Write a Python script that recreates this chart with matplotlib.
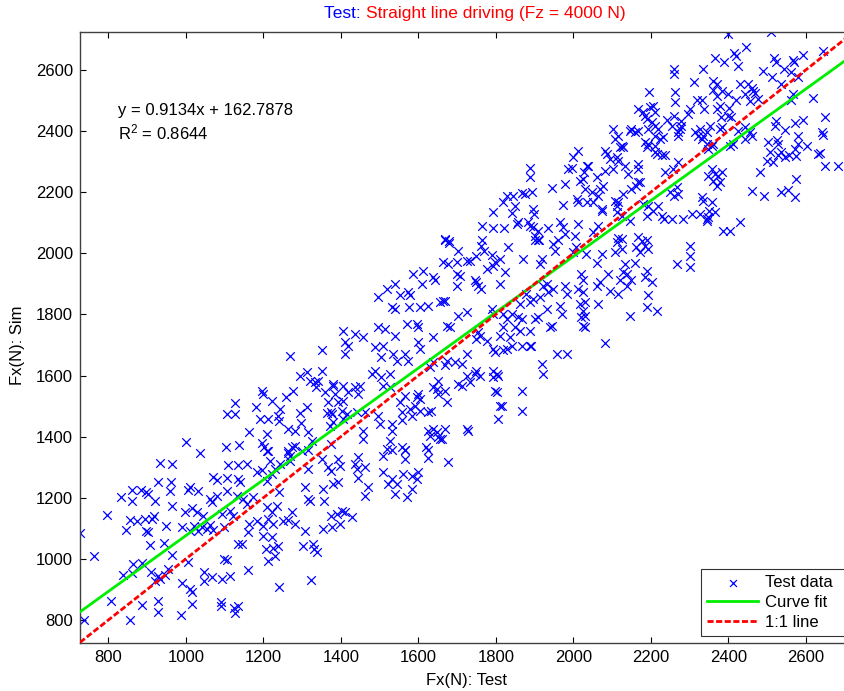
import matplotlib
matplotlib.use("Agg")
import matplotlib.pyplot as plt
import numpy as np

plt.rcParams['font.family'] = ['Liberation Sans', 'DejaVu Sans']
plt.rcParams['mathtext.fontset'] = 'custom'
plt.rcParams['mathtext.rm'] = 'Liberation Sans'
plt.rcParams['mathtext.it'] = 'Liberation Sans:italic'

# ---- data (Fx test vs Fx sim) ----
test_sim_points = [
    # lower-left region
    (727,1085),(763,1009),(797,1144),(737,800),(807,862),(833,1202),(861,1189),(861,1225),(884,1225),(897,1219),
    (903,1212),(933,1314),(964,1310),(928,1252),(962,1252),(959,1222),(921,1189),(964,1173),(856,1127),(874,1124),
    (895,1131),(913,1131),(918,1140),(846,1094),(897,1091),(903,1088),(949,1108),(908,1045),(944,1052),(964,1013),
    (864,984),(887,987),(838,947),(861,954),(910,957),(928,944),(946,947),(954,967),(921,928),(933,934),
    (887,849),(928,862),(928,826),(856,800),(987,816),(990,921),(1011,901),(1016,892),(1016,852),(1091,859),
    (1091,846),(1124,839),(1127,823),(1134,846),(1047,957),(1047,928),(1068,941),(1093,934),(1114,944),(1099,1000),
    (1106,996),(1160,964),(1240,908),(1323,931),(1006,990),(990,1104),(1011,1091),(1021,1108),(1032,1091),(1042,1104),
    (1055,1098),(1062,1111),(1070,1094),(998,1153),(1016,1166),(1029,1153),(1045,1140),(1011,1235),(1032,1222),(1006,1225),
    (1062,1196),(1068,1186),(1081,1206),(1070,1268),(1081,1258),(1109,1307),(1134,1307),(1158,1310),(1037,1346),(1106,1265),
    (1134,1261),(1140,1252),(1106,1222),(1132,1206),(1148,1196),(1158,1180),(1094,1147),(1114,1157),(1122,1140),(1099,1104),
    (1134,1049),(1145,1049),(1160,1088),(1163,1114),(1184,1124),(1199,1108),(1212,1131),(1225,1114),(1199,1075),(1207,1032),
    (1225,1036),(1238,1042),(1212,993),(1230,1009),(1222,1072),(1173,1202),(1209,1170),(1222,1153),(1235,1173),(1184,1284),
    (1196,1291),(1222,1278),(1230,1294),(1243,1310),(1217,1320),(1209,1353),(1263,1346),(1269,1337),(1251,1124),(1263,1127),
    (1282,1114),(1274,1153),(1307,1235),(1315,1196),(1320,1189),(1354,1229),(1356,1189),(1302,1042),(1328,1049),(1331,1032),
    (1339,1023),(1354,1098),(1377,1104),(1307,1091),(1269,1320),(1315,1294),(1351,1327),(1367,1301),(1209,1255),(1240,1219),
    # left-middle region
    (1001,1383),(1104,1366),(1137,1373),(1106,1474),(1127,1474),(1127,1510),(1163,1415),(1181,1497),(1191,1458),(1209,1409),
    (1196,1549),(1199,1540),(1222,1517),(1212,1458),(1238,1468),(1243,1491),(1240,1451),(1196,1379),(1202,1366),(1212,1353),
    (1259,1530),(1277,1549),(1269,1664),(1263,1425),(1282,1419),(1294,1478),(1297,1445),(1313,1497),(1315,1415),(1326,1386),
    (1313,1611),(1294,1598),(1320,1582),(1333,1579),(1341,1582),(1336,1562),(1351,1615),(1351,1684),(1359,1546),(1367,1513),
    (1380,1566),(1377,1474),(1372,1435),(1364,1478),(1263,1353),(1274,1366),(1282,1369),(1300,1353),(1315,1356),
    # middle-bottom region
    (1394,1327),(1445,1333),(1510,1338),(1531,1355),(1565,1355),(1565,1327),(1626,1355),(1626,1329),(1677,1316),(1376,1289),
    (1398,1305),(1437,1311),(1441,1295),(1462,1300),(1445,1264),(1394,1251),(1381,1245),(1510,1286),(1531,1262),(1522,1245),
    (1544,1245),(1561,1278),(1583,1273),(1600,1284),(1596,1262),(1583,1229),(1570,1202),(1540,1213),(1471,1235),(1462,1207),
    (1389,1147),(1402,1158),(1411,1153),(1428,1136),(1398,1115),(1376,1142),
    # centre region
    (1669,2042),(1680,2034),(1703,2009),(1733,1976),(1726,1976),(1750,1992),(1769,2006),(1763,2025),(1789,1995),(1776,1949),
    (1798,1973),(1811,1982),(1793,1960),(1832,2020),(1824,1940),(1811,1900),(1763,1883),(1699,1932),(1707,1927),(1699,1894),
    (1746,1911),(1750,1905),(1755,1894),(1664,1971),(1677,1965),(1699,1971),(1587,1932),(1613,1943),(1639,1922),(1643,1911),
    (1609,1900),(1540,1900),(1518,1883),(1497,1856),(1574,1872),(1578,1862),(1553,1862),(1531,1823),(1540,1818),(1577,1823),
    (1604,1823),(1626,1829),(1664,1845),(1669,1845),(1656,1840),(1703,1796),(1725,1807),(1497,1758),(1514,1753),(1540,1731),
    (1570,1769),(1596,1769),(1600,1758),(1673,1763),(1682,1758),(1639,1725),(1406,1747),(1411,1709),(1419,1698),(1437,1736),
    (1458,1725),(1411,1671),(1488,1692),(1510,1698),(1505,1660),(1535,1671),(1544,1649),(1574,1649),(1565,1671),(1600,1709),
    (1604,1687),(1488,1616),(1480,1605),(1505,1594),(1527,1605),(1510,1567),(1527,1562),(1381,1572),(1385,1540),(1406,1567),
    (1419,1545),(1437,1562),(1445,1540),(1449,1567),(1406,1518),(1393,1513),(1376,1480),(1458,1417),(1462,1480),(1497,1469),
    (1501,1442),(1531,1442),(1531,1420),(1527,1387),(1518,1360),(1557,1480),(1557,1453),(1578,1491),(1583,1469),(1591,1502),
    (1604,1485),(1626,1480),(1634,1485),(1604,1523),(1565,1534),(1553,1513),(1557,1365),(1565,1358),(1626,1420),(1639,1425),
    (1630,1403),(1647,1414),(1656,1393),(1660,1393),(1621,1365),(1651,1398),(1600,1540),(1596,1529),(1639,1562),(1647,1556),
    (1651,1540),(1669,1551),(1673,1513),(1651,1583),(1669,1633),(1673,1649),(1694,1643),(1712,1638),(1639,1643),(1630,1627),
    (1725,1671),(1725,1600),(1746,1605),(1750,1616),(1759,1600),(1733,1578),(1703,1572),(1712,1567),(1669,1425),(1725,1425),
    (1729,1420),(1750,1720),(1759,1731),(1755,1742),(1776,1714),(1793,1687),(1798,1676),(1819,1682),(1828,1687),(1841,1698),
    (1793,1616),(1802,1605),(1806,1600),(1793,1594),(1798,1551),(1802,1545),(1811,1502),(1815,1502),(1806,1458),(1867,1551),
    (1867,1485),(1789,1818),(1793,1802),(1819,1802),(1828,1785),(1841,1802),(1858,1791),(1867,1785),(1849,1758),(1862,1747),
    (1819,1758),(1811,1731),(1836,1725),(1888,1747),(1901,1785),(1910,1791),(1940,1758),(1944,1763),(1931,1818),(1888,1698),
    (1892,1698),(1867,1698),(1918,1638),(1922,1605),(1957,1671),(1983,1671),(1862,1834),(1888,1840),(1879,1867),(1896,1851),
    (1922,1894),(1931,1900),(1935,1872),(1948,1883),(1978,1894),(1983,1867),(1914,1856),(1871,1982),(1901,2042),(1914,1965),
    (1918,1982),(1952,2009),(1948,2031),(1910,2042),(2000,2003),(2008,2020),(2021,1932),(2026,1911),(2013,1883),(2026,1872),
    (1965,1829),(1970,1802),(2017,1834),(2026,1812),(2021,1791),(2026,1763),(1381,1447),(1402,1485),(1415,1474),(1406,1458),
    (1441,1480),(1458,1393),(1376,1376),
    # upper-centre region
    (1669,2047),(1679,2040),(1764,2090),(1794,2083),(1821,2083),(1764,2043),(1794,2136),(1818,2169),(1828,2189),(1841,2131),
    (1844,2189),(1850,2156),(1867,2197),(1875,2194),(1888,2278),(1888,2251),(1897,2145),(1899,2129),(1893,2199),(1854,2096),
    (1858,2101),(1884,2103),(1888,2090),(1897,2085),(1910,2074),(1912,2044),(1901,2058),(1935,2083),(1944,2212),(1966,2101),
    (1974,2085),(1979,2227),(1973,2158),(1987,2276),(1996,2278),(2000,2314),(2013,2336),(2009,2178),(2013,2167),(2017,2238),
    (2026,2243),(2030,2210),(2028,2265),(2013,2096),(2004,2058),(1979,2063),(1960,2044),(2035,2287),(2035,2167),
    # right-middle region
    (2112,2036),(2125,2014),(2107,2003),(2163,2020),(2172,2003),(2185,2025),(2193,2014),(2189,2042),(2034,1998),(2073,1998),
    (2060,1968),(2133,1965),(2159,1968),(2267,1965),(2301,2025),(2301,1992),(2301,1954),(2090,1932),(2120,1911),(2129,1938),
    (2138,1932),(2150,1911),(2189,1943),(2185,1922),(2202,1905),(2060,1894),(2069,1905),(2095,1878),(2116,1867),(2138,1894),
    (2193,1862),(2064,1834),(2189,1823),(2215,1812),(2146,1796),(2083,1707),(2030,1796),(2030,1758),(2030,1840),
    # upper-right region
    (2400,2718),(2510,2725),(2445,2674),(2415,2655),(2419,2647),(2365,2638),(2389,2625),(2424,2614),(2518,2638),(2522,2625),
    (2544,2603),(2568,2634),(2570,2625),(2593,2650),(2645,2663),(2260,2603),(2260,2587),(2335,2603),(2490,2598),(2513,2576),
    (2537,2554),(2563,2592),(2580,2576),(2361,2565),(2372,2554),(2361,2535),(2372,2516),(2383,2532),(2312,2560),(2430,2554),
    (2451,2554),(2460,2540),(2464,2532),(2470,2524),(2477,2505),(2456,2499),(2443,2521),(2196,2529),(2262,2527),(2262,2494),
    (2331,2500),(2338,2472),(2318,2503),(2398,2521),(2421,2502),(2402,2474),(2378,2481),(2381,2445),(2206,2481),(2211,2463),
    (2185,2448),(2181,2461),(2243,2437),(2260,2448),(2255,2418),(2279,2434),(2301,2472),(2297,2456),(2568,2521),(2563,2500),
    (2619,2507),(2649,2445),(2641,2396),(2645,2387),(2572,2426),(2593,2437),(2524,2434),(2520,2418),(2546,2405),(2503,2363),
    (2525,2372),(2529,2358),(2507,2330),(2529,2320),(2537,2333),(2546,2314),(2556,2322),(2572,2341),(2574,2317),(2580,2358),
    (2602,2350),(2580,2385),(2632,2325),(2636,2328),(2516,2298),(2501,2303),(2482,2267),(2574,2243),(2649,2287),(2682,2287),
    (2460,2205),(2493,2189),(2537,2202),(2553,2208),(2572,2183),(2430,2101),(2387,2074),(2404,2074),(2284,2112),(2305,2129),
    (2327,2129),(2346,2112),(2350,2140),(2357,2167),(2331,2183),(2335,2172),(2365,2134),(2249,2200),(2260,2189),(2271,2194),
    (2267,2216),(2254,2112),(2235,2112),(2228,2123),(2193,2156),(2206,2140),(2219,2156),(2189,2123),(2181,2161),(2168,2234),
    (2172,2232),(2150,2210),(2163,2221),(2142,2260),(2168,2276),(2168,2292),(2133,2287),(2116,2303),(2103,2276),(2236,2265),
    (2258,2276),(2271,2298),(2357,2276),(2365,2260),(2374,2254),(2378,2232),(2370,2221),(2361,2238),(2348,2254),(2383,2265),
    (2348,2118),(2346,2107),(2116,2167),(2129,2194),(2107,2172),(2112,2156),(2073,2145),(2064,2189),(2047,2200),(2052,2167),
    (2073,2140),(2112,2134),(2125,2123),(2146,2107),(2077,2221),(2069,2210),(2060,2249),(2039,2287),(2082,2270),(2052,2069),
    (2064,2090),(2116,2049),(2125,2047),(2168,2052),(2176,2041),(2082,2336),(2086,2325),(2095,2309),(2112,2314),(2103,2407),
    (2116,2385),(2125,2352),(2107,2374),(2120,2347),(2129,2347),(2150,2407),(2159,2396),(2168,2401),(2146,2401),(2185,2363),
    (2193,2358),(2211,2352),(2189,2347),(2211,2385),(2224,2374),(2219,2407),(2232,2379),(2211,2330),(2228,2320),(2215,2325),
    (2236,2320),(2271,2385),(2275,2407),(2271,2396),(2279,2418),(2314,2396),(2322,2385),(2327,2407),(2335,2385),(2331,2374),
    (2344,2396),(2353,2418),(2344,2358),(2357,2352),(2378,2407),(2383,2412),(2348,2341),(2361,2358),(2202,2429),(2189,2440),
    (2193,2407),(2211,2418),(2168,2472),(2198,2478),(2370,2472),(2408,2445),(2400,2450),(2426,2401),(2456,2396),(2443,2412),
    (2404,2352),(2413,2358),(2443,2374),(2460,2385),
]
test_fx = [p[0] for p in test_sim_points]
sim_fx = [p[1] for p in test_sim_points]

fit_slope = 0.9134
fit_intercept = 162.7878
r_squared = 0.8644

x_limits = [727, 2714]
y_limits = [725, 2724]
x_ticks = [800, 1000, 1200, 1400, 1600, 1800, 2000, 2200, 2400, 2600]
y_ticks = [800, 1000, 1200, 1400, 1600, 1800, 2000, 2200, 2400, 2600]

FS = 12
W, H = 845, 691
fig = plt.figure(figsize=(W / 100, H / 100), dpi=100)
ax = fig.add_axes([80 / W, (H - 643) / H, (850 - 80) / W, (643 - 32) / H])

ax.scatter(test_fx, sim_fx, marker='x', s=38, color='#0000ff', linewidths=0.9,
           label='Test data', zorder=2)

line_x = np.array(x_limits, dtype=float)
ax.plot(line_x, fit_slope * line_x + fit_intercept, color='#00ee00', lw=2.0,
        label='Curve fit', zorder=3)
ax.plot(line_x, line_x, color='#ff0000', lw=2.0, ls=(0, (2.2, 0.9)),
        label='1:1 line', zorder=4)

ax.set_xlim(x_limits)
ax.set_ylim(y_limits)
ax.set_xticks(x_ticks)
ax.set_yticks(y_ticks)
ax.tick_params(direction='in', length=4, width=0.8, labelsize=FS, top=True,
               right=True, colors='black', pad=5)
for sp in ax.spines.values():
    sp.set_color('#404040')
    sp.set_linewidth(1.0)

ax.text(826, 2466, 'y = %.4fx + %.4f' % (fit_slope, fit_intercept), fontsize=FS,
        va='center', ha='left')
ax.text(826, 2394, r'R$^2$ = %.4f' % r_squared, fontsize=FS, va='center', ha='left')

fig.text(467 / W, 1 - 680 / H, 'Fx(N): Test', fontsize=FS, ha='center', va='center')
fig.text(18 / W, 1 - 345 / H, 'Fx(N): Sim', fontsize=FS, ha='center', va='center',
         rotation=90)

t1 = fig.text(324 / W, 1 - 21 / H, 'Test: ', fontsize=12.5, color='#0000ff',
              ha='left', va='bottom')
ax.annotate('Straight line driving (Fz = 4000 N)', xy=(1, 0), xycoords=t1,
            fontsize=12.5, color='#ff0000', ha='left', va='bottom',
            annotation_clip=False)

leg = ax.legend(loc='lower left',
                bbox_to_anchor=(701 / W, (H - 636) / H, 160 / W, 72 / H),
                bbox_transform=fig.transFigure, mode='expand', fontsize=FS,
                frameon=True, fancybox=False, borderpad=0.35, labelspacing=0.3,
                handlelength=3.1, handletextpad=0.4, borderaxespad=0,
                markerscale=0.8)
leg.get_frame().set_edgecolor('black')
leg.get_frame().set_linewidth(0.8)

fig.savefig('out.png', dpi=100)
